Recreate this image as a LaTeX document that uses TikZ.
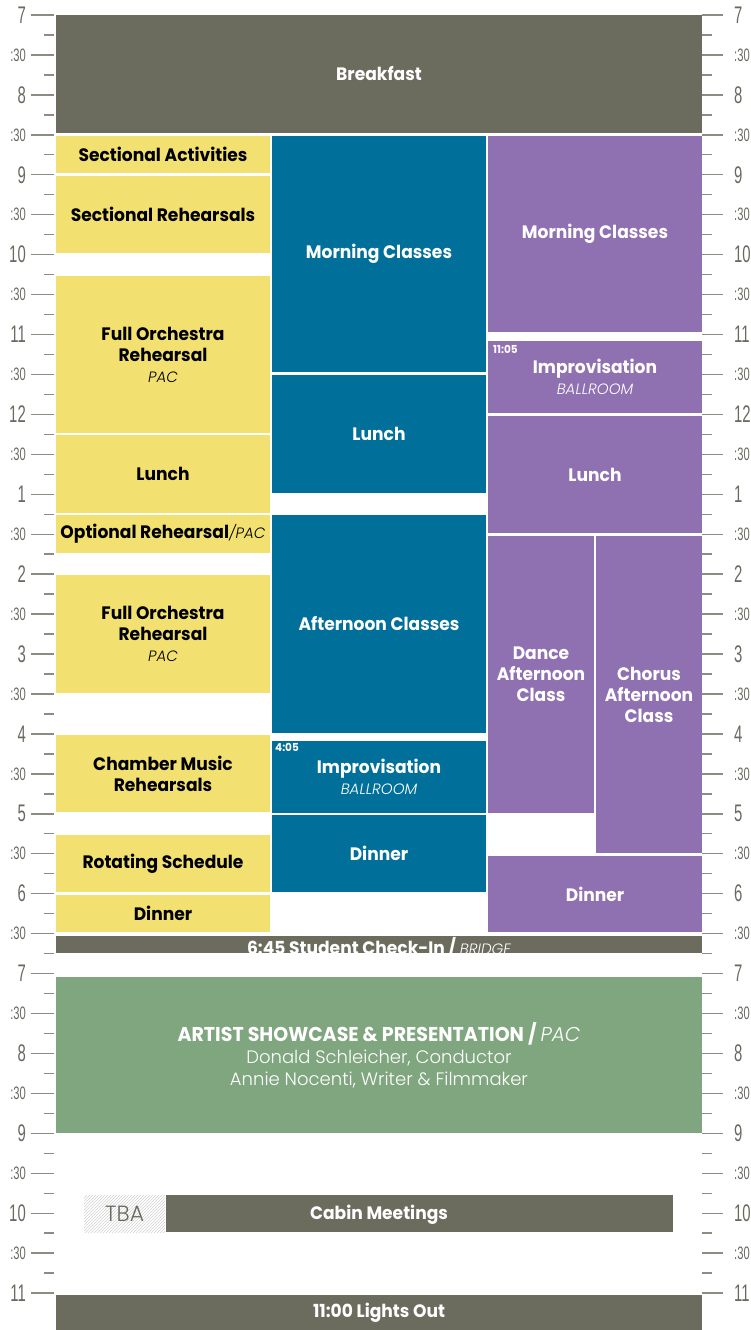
\documentclass[tikz,border=0pt]{standalone}
\usepackage{fontspec}
\setmainfont{Poppins}[BoldFont={Poppins Bold}, BoldFeatures={FakeStretch=0.95}]
\newfontfamily\lightf{Poppins Light}
\newfontfamily\lightit{Poppins Light Italic}
\newfontfamily\axisf[FakeStretch=0.62]{Liberation Sans}
\usetikzlibrary{patterns}
\definecolor{gry}{RGB}{107,107,94}
\definecolor{yel}{RGB}{242,224,112}
\definecolor{blu}{RGB}{0,111,154}
\definecolor{pur}{RGB}{143,112,177}
\definecolor{grn}{RGB}{128,166,128}
\definecolor{tickc}{RGB}{140,140,130}
\definecolor{axtxt}{RGB}{105,105,95}
\newcommand\subtx[1]{{\mdseries\lightit\fontsize{15}{21}\selectfont #1}}
\tikzset{
  blk/.style={anchor=north west, inner sep=0pt, outer sep=0pt, align=center, text=white,
    font=\bfseries\fontsize{18}{21}\selectfont},
  ybk/.style={blk, fill=yel, text=black, minimum width=214pt},
  bbk/.style={blk, fill=blu, minimum width=214pt},
  pbk/.style={blk, fill=pur, minimum width=214pt},
  gbk/.style={blk, fill=gry},
  tlab/.style={inner sep=0pt, text=white, font=\bfseries\fontsize{11}{12}\selectfont, anchor=north west},
  majtick/.style={draw=tickc, line width=1.4pt},
  hourlab/.style={text=axtxt, inner sep=0pt, font=\axisf\fontsize{24}{24}\selectfont},
  halflab/.style={text=axtxt, inner sep=0pt, font=\axisf\fontsize{18}{18}\selectfont},
}
\begin{document}
\begin{tikzpicture}[x=1pt,y=-1pt]
\useasboundingbox (0,0) rectangle (751,1330);
% axis ticks
\foreach \k in {0,...,64}{
  \pgfmathsetmacro\yy{15+19.97*\k}
  \pgfmathtruncatemacro\m{mod(\k,4)}
  \ifodd\k
    \draw[majtick] (44,\yy) -- (54,\yy) (702,\yy) -- (712,\yy);
  \else
    \draw[majtick] (31,\yy) -- (54,\yy) (702,\yy) -- (723,\yy);
    \ifnum\m=0
      \pgfmathtruncatemacro\h{mod(6+\k/4,12)+1}
      \node[hourlab, anchor=east] (hl\k) at (26,\yy) {\h};
      \node[hourlab, anchor=west] (hr\k) at (734,\yy) {\h};
    \else
      \node[halflab, anchor=east] (hl\k) at (26,\yy) {:30};
      \node[halflab, anchor=west] (hr\k) at (734,\yy) {:30};
    \fi
  \fi
}
% breakfast
\node[gbk, minimum width=646pt, minimum height=118pt] (bf) at (56,15) {Breakfast};
% yellow column
\node[ybk, minimum height=37pt] (sa) at (56,136) {Sectional Activities};
\node[ybk, minimum height=77pt] (sr) at (56,176) {Sectional Rehearsals};
\node[ybk, minimum height=157pt] (fo1) at (56,276) {Full Orchestra\\Rehearsal\\\subtx{PAC}};
\node[ybk, minimum height=78pt] (yl) at (56,435) {Lunch};
\node[ybk, minimum height=38pt] (opt) at (56,515) {Optional Rehearsal\subtx{/PAC}};
\node[ybk, minimum height=118pt] (fo2) at (56,575) {Full Orchestra\\Rehearsal\\\subtx{PAC}};
\node[ybk, minimum height=77pt] (cm) at (56,735) {Chamber Music\\Rehearsals};
\node[ybk, minimum height=57pt] (rs) at (56,835) {Rotating Schedule};
\node[ybk, minimum height=37pt] (yd) at (56,895) {Dinner};
% blue column
\node[bbk, minimum height=236pt] (bmc) at (272,136) {Morning Classes};
\node[bbk, minimum height=118pt] (bl) at (272,375) {Lunch};
\node[bbk, minimum height=218pt] (bac) at (272,515) {Afternoon Classes};
\node[bbk, minimum height=72pt] (bim) at (272,741) {Improvisation\\\subtx{BALLROOM}};
\node[tlab] (t405) at (275,743) {4:05};
\node[bbk, minimum height=77pt] (bd) at (272,815) {Dinner};
% purple column
\node[pbk, minimum height=196pt] (pmc) at (488,136) {Morning Classes};
\node[pbk, minimum height=72pt] (pim) at (488,341) {Improvisation\\\subtx{BALLROOM}};
\node[tlab] (t1105) at (493,345) {11:05};
\node[pbk, minimum height=117pt] (pl) at (488,416) {Lunch};
\node[blk, fill=pur, minimum width=106pt, minimum height=277pt] (dance) at (488,536) {Dance\\Afternoon\\Class};
\node[blk, fill=pur, minimum width=106pt, minimum height=317pt] (chorus) at (596,536) {Chorus\\Afternoon\\Class};
\node[pbk, minimum height=76pt] (pd) at (488,856) {Dinner};
% check-in
\node[gbk, minimum width=646pt, minimum height=17pt] (ci) at (56,936) {};
\begin{scope}
\clip (56,936) rectangle (702,953);
\node[inner sep=0pt, anchor=base, text=white, font=\bfseries\fontsize{18}{21}\selectfont] (citx) at (379,954.5) {6:45 Student Check-In / \subtx{BRIDGE}};
\end{scope}
% evening
\node[blk, fill=grn, minimum width=646pt, minimum height=156pt, font=\bfseries\fontsize{20}{22}\selectfont] (show) at (56,977)
  {ARTIST SHOWCASE \& PRESENTATION / {\mdseries\lightit PAC}\\
   {\mdseries\lightf\fontsize{18}{22}\selectfont Donald Schleicher, Conductor}\\
   {\mdseries\lightf\fontsize{18}{22}\selectfont Annie Nocenti, Writer \& Filmmaker}};
\node[anchor=north west, inner sep=0pt, minimum width=81pt, minimum height=37pt,
  pattern=north east lines, pattern color=gray!35] (tba) at (84,1195) {};
\node[text=axtxt, inner sep=0pt, font=\lightf\fontsize{22}{22}\selectfont] (tbatx) at (tba.center) {TBA};
\node[gbk, minimum width=507pt, minimum height=37pt] (cabin) at (166,1195) {};
\node[inner sep=0pt, text=white, font=\bfseries\fontsize{18}{21}\selectfont] (cabintx) at (379,1215) {Cabin Meetings};
\node[gbk, minimum width=646pt, minimum height=35pt] (lo) at (56,1295) {11:00 Lights Out};
\end{tikzpicture}
\end{document}
